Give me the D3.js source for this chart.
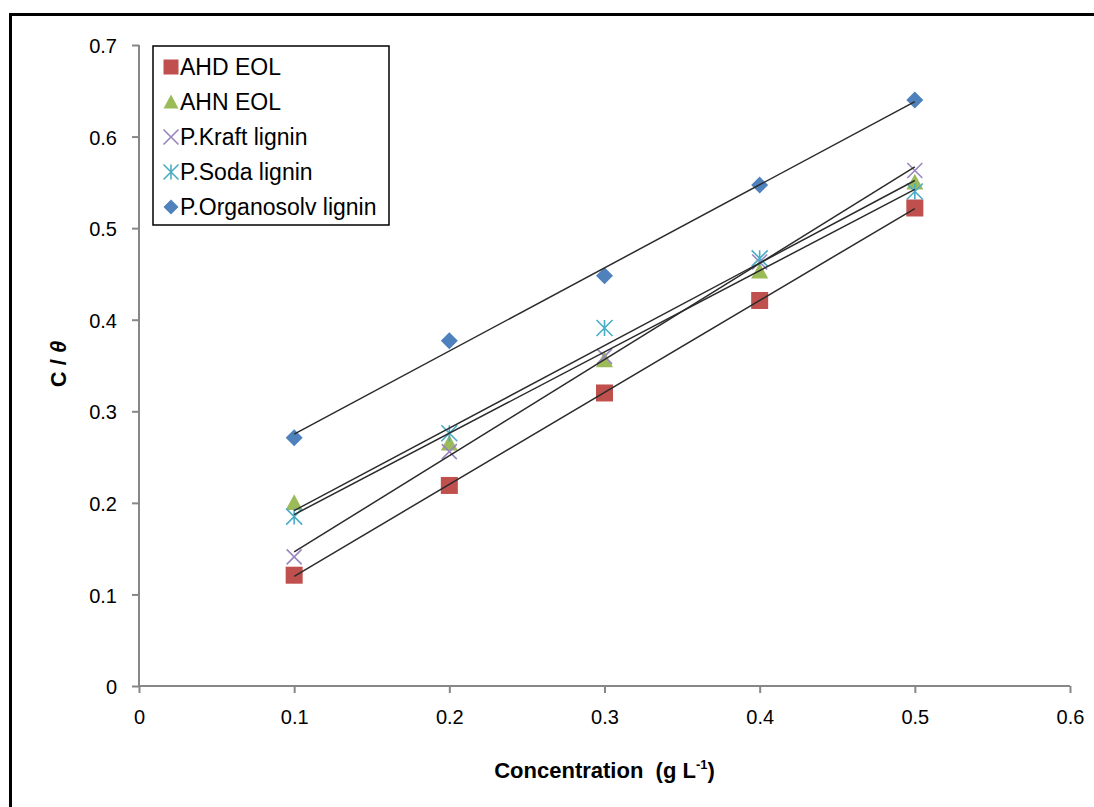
<!DOCTYPE html>
<html>
<head>
<meta charset="utf-8">
<script src="https://cdn.jsdelivr.net/npm/d3@7"></script>
<style>
  html, body { margin: 0; padding: 0; background: #fff; }
  svg { display: block; }
</style>
</head>
<body>
<svg id="chart" width="1094" height="807"></svg>
<script>
const concentrations = [0.1, 0.2, 0.3, 0.4, 0.5];
const seriesNames = ["AHD EOL", "AHN EOL", "P.Kraft lignin", "P.Soda lignin", "P.Organosolv lignin"];
const ahdEol = [0.121, 0.219, 0.320, 0.421, 0.522];
const ahnEol = [0.200, 0.265, 0.356, 0.453, 0.550];
const kraftLignin = [0.141, 0.256, 0.360, 0.463, 0.563];
const sodaLignin = [0.185, 0.276, 0.391, 0.467, 0.540];
const organosolvLignin = [0.271, 0.377, 0.448, 0.547, 0.640];
const xTicks = [0, 0.1, 0.2, 0.3, 0.4, 0.5, 0.6];
const yTicks = [0, 0.1, 0.2, 0.3, 0.4, 0.5, 0.6, 0.7];

(function () {
const seriesValues = [ahdEol, ahnEol, kraftLignin, sodaLignin, organosolvLignin];
const colors = ["#C0504D", "#9BBB59", "#9A86BF", "#4BACC6", "#4F81BD"];
const markerTypes = ["square", "triangle", "x", "star", "diamond"];

const svg = d3.select("#chart");
const W = 1094, H = 807;
const pLeft = 139, pRight = 1070, pTop = 45, pBottom = 686;

svg.append("rect").attr("x", 0).attr("y", 0).attr("width", W).attr("height", H).attr("fill", "#fff");
svg.append("rect").attr("x", 10.5).attr("y", 14.5).attr("width", 1200).attr("height", 900)
  .attr("fill", "none").attr("stroke", "#000").attr("stroke-width", 3);

const x = d3.scaleLinear().domain([0, 0.6]).range([pLeft, pRight]);
const y = d3.scaleLinear().domain([0, 0.7]).range([pBottom, pTop]);

const axisColor = "#878787";
const tickFont = "Liberation Sans, Arial, sans-serif";

const yAxis = svg.append("g").attr("transform", `translate(${pLeft},0)`)
  .call(d3.axisLeft(y).tickValues(yTicks).tickSize(7).tickPadding(14).tickFormat(d => d === 0 ? "0" : d3.format(".1f")(d)));
const xAxis = svg.append("g").attr("transform", `translate(0,${pBottom})`)
  .call(d3.axisBottom(x).tickValues(xTicks).tickSize(7).tickPadding(14).tickFormat(d => d === 0 ? "0" : d3.format(".1f")(d)));

[yAxis, xAxis].forEach(g => {
  g.select(".domain").attr("stroke", axisColor).attr("stroke-width", 2);
  g.selectAll(".tick line").attr("stroke", axisColor).attr("stroke-width", 2);
  g.selectAll(".tick text").attr("fill", "#000").style("font-family", tickFont).style("font-size", "20px");
});
yAxis.select(".domain").attr("d", `M0,${pTop}V${pBottom}`);
xAxis.select(".domain").attr("d", `M${pLeft},0H${pRight}`);
yAxis.selectAll(".tick text").attr("dy", "0.38em").attr("x", -22);
xAxis.selectAll(".tick text").attr("dy", "0.85em");

svg.append("text").attr("x", (pLeft + pRight) / 2).attr("y", 778).attr("text-anchor", "middle")
  .style("font-family", tickFont).style("font-weight", "bold").style("font-size", "22px")
  .html('Concentration&#160;&#160;(g L<tspan dy="-9" font-size="13">-1</tspan><tspan dy="9">)</tspan>');

svg.append("text").attr("transform", "translate(66,364) rotate(-90)").attr("text-anchor", "middle")
  .style("font-family", tickFont).style("font-weight", "bold").style("font-size", "22px")
  .html('C / <tspan font-style="italic">θ</tspan>');

function drawMarker(g, type, color, size) {
  const s = size / 2;
  if (type === "square") {
    g.append("rect").attr("x", -s).attr("y", -s).attr("width", size).attr("height", size).attr("fill", color);
  } else if (type === "triangle") {
    g.append("path").attr("d", `M0,${-s}L${s},${s * 0.85}L${-s},${s * 0.85}Z`).attr("fill", color);
  } else if (type === "diamond") {
    g.append("path").attr("d", `M0,${-s}L${s},0L0,${s}L${-s},0Z`).attr("fill", color);
  } else if (type === "x") {
    g.append("path").attr("d", `M${-s},${-s}L${s},${s}M${s},${-s}L${-s},${s}`)
      .attr("stroke", color).attr("stroke-width", 1.6).attr("fill", "none");
  } else if (type === "star") {
    g.append("path").attr("d", `M${-s},${-s}L${s},${s}M${s},${-s}L${-s},${s}M0,${-s}L0,${s}`)
      .attr("stroke", color).attr("stroke-width", 1.6).attr("fill", "none");
  }
}

const markerSizes = { square: 17, triangle: 17, x: 15, star: 16, diamond: 17 };

seriesValues.forEach((vals, i) => {
  const g = svg.append("g");
  vals.forEach((v, j) => {
    const mg = g.append("g").attr("transform", `translate(${x(concentrations[j])},${y(v)})`);
    drawMarker(mg, markerTypes[i], colors[i], markerSizes[markerTypes[i]]);
  });
});

// linear trend lines (least squares on each series)
seriesValues.forEach(vals => {
  const mx = d3.mean(concentrations), my = d3.mean(vals);
  let sxy = 0, sxx = 0;
  concentrations.forEach((c, k) => { sxy += (c - mx) * (vals[k] - my); sxx += (c - mx) * (c - mx); });
  const slope = sxy / sxx, icpt = my - slope * mx;
  const x0 = d3.min(concentrations), x1 = d3.max(concentrations);
  svg.append("line")
    .attr("x1", x(x0)).attr("y1", y(icpt + slope * x0))
    .attr("x2", x(x1)).attr("y2", y(icpt + slope * x1))
    .attr("stroke", "#2b2b2b").attr("stroke-width", 1.5);
});

const lg = svg.append("g");
lg.append("rect").attr("x", 153).attr("y", 46).attr("width", 236).attr("height", 179)
  .attr("fill", "#fff").attr("stroke", "#000").attr("stroke-width", 1.5);
seriesNames.forEach((name, i) => {
  const cy = 67 + i * 35;
  const mg = lg.append("g").attr("transform", `translate(171,${cy})`);
  drawMarker(mg, markerTypes[i], colors[i], 15);
  lg.append("text").attr("x", 180).attr("y", cy + 8)
    .style("font-family", tickFont).style("font-size", "23px").attr("fill", "#000")
    .text(name);
});
})();
</script>
</body>
</html>
